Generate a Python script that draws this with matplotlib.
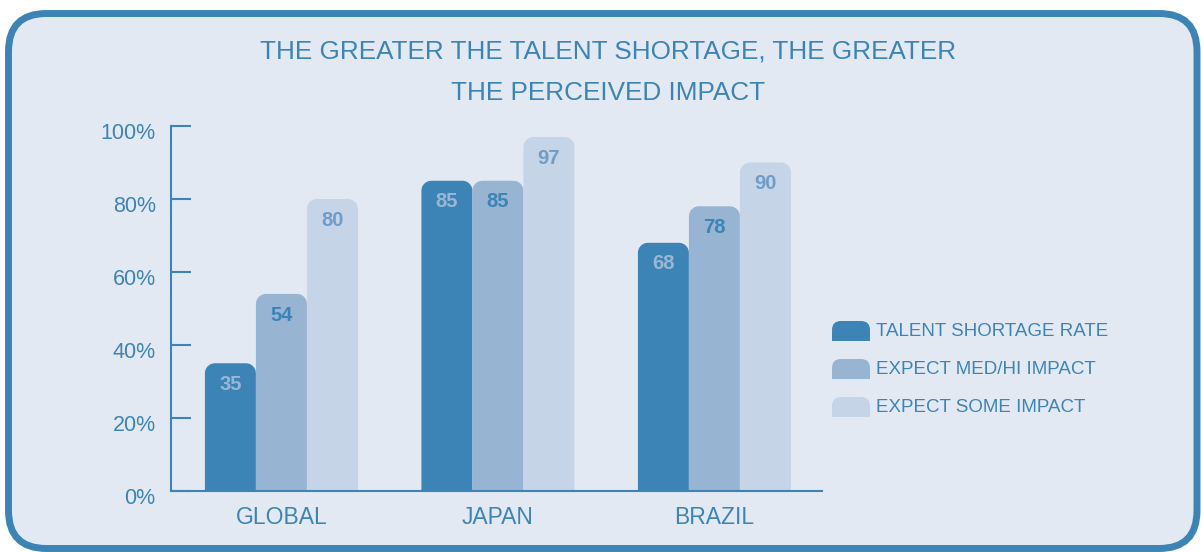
import matplotlib
matplotlib.use("Agg")
import matplotlib.pyplot as plt
from matplotlib.patches import FancyBboxPatch, Rectangle, Polygon
from matplotlib.transforms import ScaledTranslation
import numpy as np

categories = ["GLOBAL", "JAPAN", "BRAZIL"]
series_names = ["TALENT SHORTAGE RATE", "EXPECT MED/HI IMPACT", "EXPECT SOME IMPACT"]
shortage_rate = [35, 85, 68]
med_hi_impact = [54, 85, 78]
some_impact = [80, 97, 90]
yticks = [0, 20, 40, 60, 80, 100]

blue = "#3c84b6"
colors = [blue, "#97b4d2", "#c5d4e7"]
label_colors = ["#9ab6d6", blue, "#6f9dc9"]
bg = "#e3e9f3"

plt.rcParams["font.family"] = ["Liberation Sans", "DejaVu Sans"]

W, H = 1201, 552
fig = plt.figure(figsize=(W / 100, H / 100), dpi=100)
fig.patch.set_facecolor("white")

# background panel in pixel coordinates
bgax = fig.add_axes([0, 0, 1, 1])
bgax.set_xlim(0, W)
bgax.set_ylim(H, 0)
bgax.axis("off")
bgax.add_patch(FancyBboxPatch((8.5, 13.5), 1188.5, 535,
                              boxstyle="round,pad=0,rounding_size=38",
                              fc=bg, ec=blue, lw=5.0))

bgax.text(608, 52, "THE GREATER THE TALENT SHORTAGE, THE GREATER",
          ha="center", va="center", fontsize=18.8, color=blue)
bgax.text(608, 93, "THE PERCEIVED IMPACT",
          ha="center", va="center", fontsize=18.8, color=blue)

# main chart axes: y axis at x=171, 0% at y=491, 100% at y=126
ax = fig.add_axes([171 / W, (H - 491) / H, (822 - 171) / W, (491 - 126) / H])
ax.patch.set_visible(False)
ax.set_xlim(-0.51, 2.497)
ax.set_ylim(0, 100)

width = 0.2356
rx = 10 / 216.5          # corner radius, x data units
ry = 10 * 100 / 365      # corner radius, y data units
t = np.linspace(0, np.pi / 2, 12)


def rounded_bars(ax, x, heights, color):
    bars = ax.bar(x, heights, width, color=color)
    for b in bars:
        b.set_visible(False)
        x0, w, h = b.get_x(), b.get_width(), b.get_height()
        x1 = x0 + w
        right = np.column_stack([x1 - rx + rx * np.cos(t), h - ry + ry * np.sin(t)])
        left = np.column_stack([x0 + rx - rx * np.cos(t[::-1]), h - ry + ry * np.sin(t[::-1])])
        verts = np.vstack([[[x0, 0], [x1, 0]], right, left])
        ax.add_patch(Polygon(verts, closed=True, fc=color, ec="none", clip_on=False))
    return bars


x = np.arange(len(categories))
all_series = [shortage_rate, med_hi_impact, some_impact]
for i, vals in enumerate(all_series):
    xs = x + (i - 1) * width
    rounded_bars(ax, xs, vals, colors[i])
    for xi, v in zip(xs, vals):
        ax.text(xi, v - 5.8, str(v), ha="center", va="center",
                fontsize=14.5, fontweight="bold", color=label_colors[i])

for s in ["top", "right"]:
    ax.spines[s].set_visible(False)
for s in ["left", "bottom"]:
    ax.spines[s].set_color(blue)
    ax.spines[s].set_linewidth(1.5)
    ax.spines[s].set_zorder(5)

ax.set_yticks(yticks)
ax.set_yticklabels([f"{t}%" for t in yticks])
ax.tick_params(axis="y", direction="in", length=14.5, width=1.5, color=blue,
               labelcolor=blue, labelsize=15.5, pad=11)
for lab in ax.get_yticklabels():
    lab.set_transform(lab.get_transform() + ScaledTranslation(0, -5 / 100, fig.dpi_scale_trans))

ax.set_xticks(x)
ax.set_xticklabels(categories)
ax.tick_params(axis="x", length=0, labelcolor=blue, labelsize=16.5, pad=11)

# legend
for i, name in enumerate(series_names):
    y0 = 321 + i * 38
    bgax.add_patch(FancyBboxPatch((832, y0), 38, 20,
                                  boxstyle="round,pad=0,rounding_size=9",
                                  fc=colors[i], ec="none"))
    bgax.add_patch(Rectangle((832, y0 + 10), 38, 10, fc=colors[i], ec="none"))
    bgax.text(876, y0 + 10, name, ha="left", va="center", fontsize=13.5, color=blue)

fig.savefig("out.png", dpi=100, facecolor="white")
